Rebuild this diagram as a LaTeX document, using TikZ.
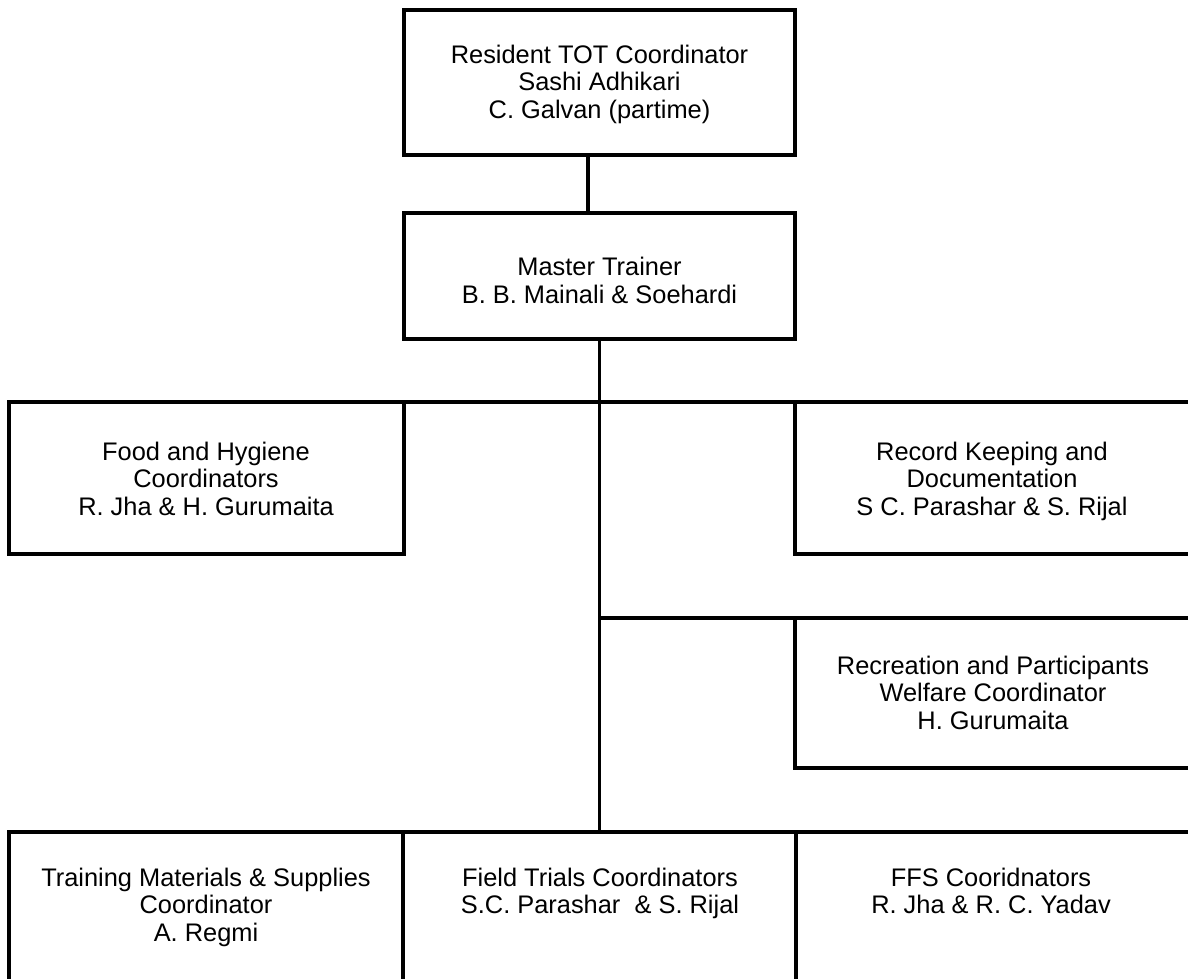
\documentclass[tikz,border=0pt]{standalone}
\usepackage{fontspec}
\setmainfont{Liberation Sans}
\begin{document}
\begin{tikzpicture}[x=1pt,y=-1pt,
  box/.style={draw=black,line width=3.5pt,rectangle,inner sep=0pt,outer sep=0pt},
  lbl/.style={inner sep=0pt,outer sep=0pt,align=center,anchor=north,
    font=\fontsize{25.4}{27.5}\selectfont},
  wire/.style={draw=black,line width=3.5pt}]
\useasboundingbox (0,0) rectangle (1188,978);
\clip (0,0) rectangle (1188,978);
\fill[white] (0,0) rectangle (1188,978);
% boxes
\node[box,minimum width=391pt,minimum height=145pt] (top) at (599.5,82.5) {};
\node[box,minimum width=391pt,minimum height=126pt] (master) at (599.5,276) {};
\node[box,minimum width=395pt,minimum height=152pt] (food) at (206.5,478) {};
\node[box,minimum width=400pt,minimum height=152pt] (rec) at (995,478) {};
\node[box,minimum width=400pt,minimum height=150pt] (recr) at (995,693) {};
\node[box,minimum width=394pt,minimum height=170pt] (tm) at (206,917) {};
\node[box,minimum width=393pt,minimum height=170pt] (ft) at (599.5,917) {};
\node[box,minimum width=400pt,minimum height=170pt] (ffs) at (996,917) {};
% texts
\node[lbl] (topt) at (599.5,45) {Resident TOT Coordinator\\Sashi Adhikari\\C. Galvan (partime)};
\node[lbl] (mastert) at (599.5,257.5) {Master Trainer\\B. B. Mainali \& Soehardi};
\node[lbl] (foodt) at (206,442) {Food and Hygiene\\Coordinators\\R. Jha \& H. Gurumaita};
\node[lbl] (rect) at (992,442) {Record Keeping and\\Documentation\\S C. Parashar \& S. Rijal};
\node[lbl] (recrt) at (993,656) {Recreation and Participants\\Welfare Coordinator\\H. Gurumaita};
\node[lbl] (tmt) at (206,868) {Training Materials \& Supplies\\Coordinator\\A. Regmi};
\node[lbl] (ftt) at (600,868) {Field Trials Coordinators\\S.C. Parashar\ \ \& S. Rijal};
\node[lbl] (ffst) at (991,868) {FFS Cooridnators\\R. Jha \& R. C. Yadav};
% connectors
\draw[wire] ([xshift=-11.5pt]top.south) -- ([xshift=-11.5pt]top.south |- master.north);
\draw[wire] (master.south) -- (master.south |- ft.north);
\draw[wire] (food.north east) -- (rec.north west);
\draw[wire] (master.south |- recr.north) -- (recr.north west);
\end{tikzpicture}
\end{document}
